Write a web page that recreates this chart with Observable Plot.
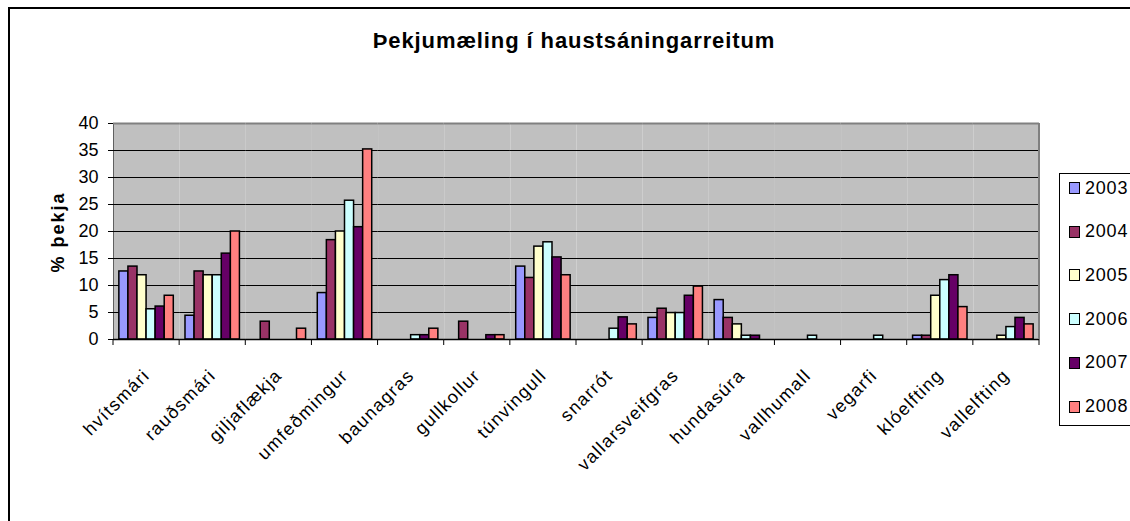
<!DOCTYPE html>
<html>
<head>
<meta charset="utf-8">
<script src="https://cdn.jsdelivr.net/npm/d3@7"></script>
<script src="https://cdn.jsdelivr.net/npm/@observablehq/plot@0.6"></script>
<style>
  body { margin: 0; background: #fff; }
  #wrap { position: relative; width: 1130px; height: 521px; overflow: hidden; font-family: "Liberation Sans", Arial, sans-serif; color: #000; }
  #border { position: absolute; left: 8px; top: 7px; width: 1300px; height: 700px; border: 2px solid #000; box-sizing: border-box; }
  #title { position: absolute; left: 0; width: 1148px; top: 30px; text-align: center; font-weight: bold; font-size: 22px; line-height: 22px; letter-spacing: 0.9px; }
  #ylabel { position: absolute; left: 58px; top: 232px; transform: translate(-50%, -50%) rotate(-90deg); font-weight: bold; font-size: 18px; letter-spacing: 2px; white-space: nowrap; }
  #legend { position: absolute; left: 1059px; top: 173px; width: 120px; height: 253px; border: 1px solid #000; box-sizing: border-box; background: #fff; }
  .item { position: absolute; left: 9px; height: 20px; display: flex; align-items: center; font-size: 18px; letter-spacing: 0.8px; }
  .sw { width: 9px; height: 10px; border: 1px solid #000; margin-right: 5px; }
  #chart { position: absolute; left: 0; top: 0; }
</style>
</head>
<body>
<div id="wrap">
  <div id="border"></div>
  <div id="chart"></div>
  <div id="title">Þekjumæling í haustsáningarreitum</div>
  <div id="ylabel">% þekja</div>
  <div id="legend"></div>
</div>
<script>
const categories = ["hvítsmári", "rauðsmári", "giljaflækja", "umfeðmingur", "baunagras", "gullkollur", "túnvingull", "snarrót", "vallarsveifgras", "hundasúra", "vallhumall", "vegarfi", "klóelfting", "vallelfting"];
const years = ["2003", "2004", "2005", "2006", "2007", "2008"];
const v2003 = [12.6, 4.4, null, 8.6, null, null, 13.5, null, 4.0, 7.3, null, null, 0.7, null];
const v2004 = [13.5, 12.6, 3.3, 18.4, null, 3.3, 11.4, null, 5.7, 4.0, null, null, 0.7, null];
const v2005 = [11.9, 11.9, null, 20.0, null, null, 17.2, null, 4.9, 2.8, null, null, 8.1, 0.7];
const v2006 = [5.6, 11.9, null, 25.7, 0.8, null, 18.0, 2.0, 4.9, 0.7, 0.7, 0.7, 11.0, 2.3];
const v2007 = [6.1, 15.9, null, 20.8, 0.8, 0.8, 15.2, 4.1, 8.1, 0.7, null, null, 11.9, 4.0];
const v2008 = [8.1, 20.0, 2.0, 35.2, 2.0, 0.8, 11.9, 2.8, 9.8, null, null, null, 6.0, 2.8];
const yTicks = [0, 5, 10, 15, 20, 25, 30, 35, 40];
const gridValues = [5, 10, 15, 20, 25, 30, 35];
const colors = ["#9999ff", "#993366", "#ffffcc", "#ccffff", "#660066", "#ff8080"];

const series = [v2003, v2004, v2005, v2006, v2007, v2008];
const data = years.flatMap((yr, i) => categories.map((c, j) => ({category: c, year: yr, value: series[i][j]})))
  .filter(d => d.value != null);

const plot = Plot.plot({
  width: 1130,
  height: 521,
  marginLeft: 113,
  marginRight: 91,
  marginTop: 123,
  marginBottom: 182,
  style: {fontFamily: "Liberation Sans, Arial, sans-serif", fontSize: "18px", color: "#000", background: "transparent", overflow: "visible"},
  facet: {data: data, x: "category"},
  fx: {domain: categories, padding: 0, round: false, label: null, tickSize: 0, tickPadding: 33, tickRotate: -45},
  x: {domain: years, paddingInner: 0, paddingOuter: 0.645, round: false, axis: null},
  y: {domain: [0, 40], ticks: yTicks, tickSize: 5, tickPadding: 10, label: null, line: true},
  color: {domain: years, range: colors},
  marks: [
    Plot.frame({fill: "#c0c0c0", stroke: "none"}),
    Plot.ruleY(gridValues, {stroke: "#000", strokeWidth: 1.2}),
    Plot.ruleY([40], {stroke: "#808080", strokeWidth: 2}),
    Plot.barY(data, {x: "year", y: "value", fill: "year", stroke: "#000", strokeWidth: 1.5}),
    Plot.ruleY([0], {stroke: "#000", strokeWidth: 1.5})
  ]
});
document.getElementById("chart").appendChild(plot);

const svg = d3.select(plot);
// font sizes of axis labels
svg.selectAll("text").attr("font-size", null).style("font-size", "18px");
svg.selectAll("[aria-label^='fx-axis'] text").style("letter-spacing", "1.3px");

// category boundary ticks and right border, from Plot's own scales
const fx = plot.scale("fx");
const ys = plot.scale("y");
const n = categories.length;
const bw = fx.bandwidth != null ? fx.bandwidth : (fx.range[1] - fx.range[0]) / n;
const bounds = categories.map(c => fx.apply(c)).concat([fx.apply(categories[n - 1]) + bw]);
const g = svg.append("g");
g.selectAll("line.b").data(bounds).join("line")
  .attr("x1", d => d).attr("x2", d => d)
  .attr("y1", ys.apply(0)).attr("y2", ys.apply(0) + 6)
  .attr("stroke", "#000").attr("stroke-width", 1);
g.append("line")
  .attr("x1", bounds[n]).attr("x2", bounds[n])
  .attr("y1", ys.apply(40)).attr("y2", ys.apply(0))
  .attr("stroke", "#808080").attr("stroke-width", 2);

// legend
const legend = document.getElementById("legend");
years.forEach((yr, i) => {
  const it = document.createElement("div");
  it.className = "item";
  it.style.top = (4 + 43.7 * i) + "px";
  const sw = document.createElement("div");
  sw.className = "sw";
  sw.style.background = colors[i];
  it.appendChild(sw);
  const t = document.createElement("span");
  t.textContent = yr;
  it.appendChild(t);
  legend.appendChild(it);
});
</script>
</body>
</html>
